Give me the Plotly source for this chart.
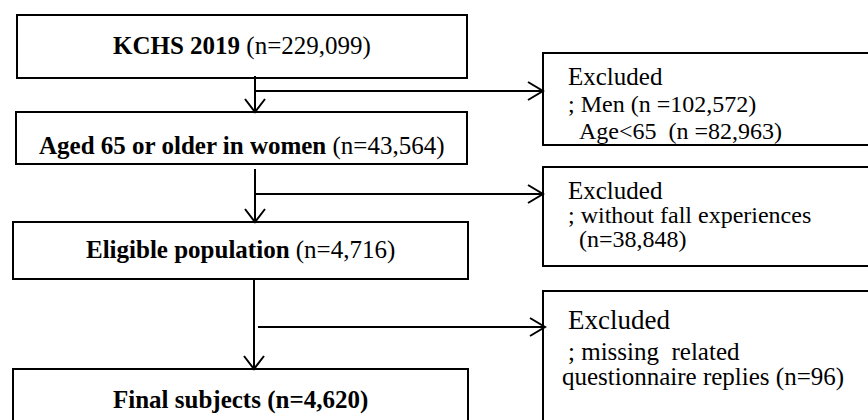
import plotly.graph_objects as go

# ---- data ----
stage_names = ["KCHS 2019", "Aged 65 or older in women", "Eligible population", "Final subjects"]
stage_n = ["229,099", "43,564", "4,716", "4,620"]
excl_titles = ["Excluded", "Excluded", "Excluded"]
excl_lines = [
    ["; Men (n =102,572)", "Age<65&nbsp; (n =82,963)"],
    ["; without fall experiences", "(n=38,848)"],
    ["; missing&nbsp; related", "questionnaire replies (n=96)"],
]

# ---- layout geometry (pixels) ----
W, H = 868, 420
FONT = "Liberation Serif, Times New Roman, serif"
main_boxes = [(17, 467, 15, 78), (16, 467, 112, 164), (13, 468, 222, 279)]
final_box = (13, 468, 369)          # open at the bottom (cut by the picture edge)
main_text_y = [46, 146, 250, 400]
right_boxes = [(543, 53, 145), (543, 167, 266), (543, 291, None)]  # open at the right edge
right_text = [
    # (x, y, size) for title, line1, line2
    [(566, 76, 25), (566, 104, 24), (577, 131, 24)],
    [(566, 190, 25), (566, 215, 24), (577, 239, 24)],
    [(566, 320, 27), (566, 351, 25), (560, 377, 25)],
]
# connectors: (vx, vy0, vy1, hx0, hy, hx1)
connectors = [(255, 76, 112, 255, 91, 543), (255, 169, 222, 255, 194, 543), (254, 279, 369, 258, 327, 545)]

LW = 2
LINE = dict(color="black", width=LW)
shapes = []
annotations = []

for (x0, x1, y0, y1) in main_boxes:
    shapes.append(dict(type="rect", xref="x", yref="y", x0=x0, x1=x1, y0=y0, y1=y1,
                       line=LINE, fillcolor="rgba(0,0,0,0)"))
fx0, fx1, fy0 = final_box
shapes.append(dict(type="path", xref="x", yref="y",
                   path=f"M {fx0},{H + 10} L {fx0},{fy0} L {fx1},{fy0} L {fx1},{H + 10}", line=LINE))
for (x0, y0, y1) in right_boxes:
    if y1 is None:
        p = f"M {W + 10},{y0} L {x0},{y0} L {x0},{H + 10}"
    else:
        p = f"M {W + 10},{y0} L {x0},{y0} L {x0},{y1} L {W + 10},{y1}"
    shapes.append(dict(type="path", xref="x", yref="y", path=p, line=LINE))

for (vx, vy0, vy1, hx0, hy, hx1) in connectors:
    shapes.append(dict(type="line", xref="x", yref="y", x0=vx, x1=vx, y0=vy0, y1=vy1, line=LINE))
    shapes.append(dict(type="path", xref="x", yref="y",
                       path=f"M {vx-10},{vy1-13} L {vx},{vy1} L {vx+10},{vy1-13}", line=LINE))
    shapes.append(dict(type="line", xref="x", yref="y", x0=hx0, x1=hx1, y0=hy, y1=hy, line=LINE))
    shapes.append(dict(type="path", xref="x", yref="y",
                       path=f"M {hx1-15},{hy-9} L {hx1},{hy} L {hx1-15},{hy+9}", line=LINE))

box_centers = [(b[0] + b[1]) / 2 for b in main_boxes] + [(fx0 + fx1) / 2]
for i, (name, n) in enumerate(zip(stage_names, stage_n)):
    if i == len(stage_names) - 1:
        txt = f"<b>{name} (n={n})</b>"
    else:
        txt = f"<b>{name}</b> (n={n})"
    annotations.append(dict(x=box_centers[i], y=main_text_y[i], xref="x", yref="y", text=txt,
                            showarrow=False, xanchor="center", yanchor="middle",
                            font=dict(family=FONT, size=25, color="black")))

for i, title in enumerate(excl_titles):
    texts = [title] + excl_lines[i]
    for t, (tx, ty, ts) in zip(texts, right_text[i]):
        annotations.append(dict(x=tx, y=ty, xref="x", yref="y", text=t,
                                showarrow=False, xanchor="left", yanchor="middle",
                                font=dict(family=FONT, size=ts, color="black")))

fig = go.Figure()
fig.update_layout(
    width=W, height=H,
    margin=dict(l=0, r=0, t=0, b=0),
    paper_bgcolor="white", plot_bgcolor="white",
    xaxis=dict(range=[0, W], visible=False, fixedrange=True),
    yaxis=dict(range=[H, 0], visible=False, fixedrange=True),
    shapes=shapes, annotations=annotations, showlegend=False,
)
fig.write_html("out.html", config={"displayModeBar": False},
               post_script="document.body.style.margin='0';document.body.style.overflow='hidden';")
